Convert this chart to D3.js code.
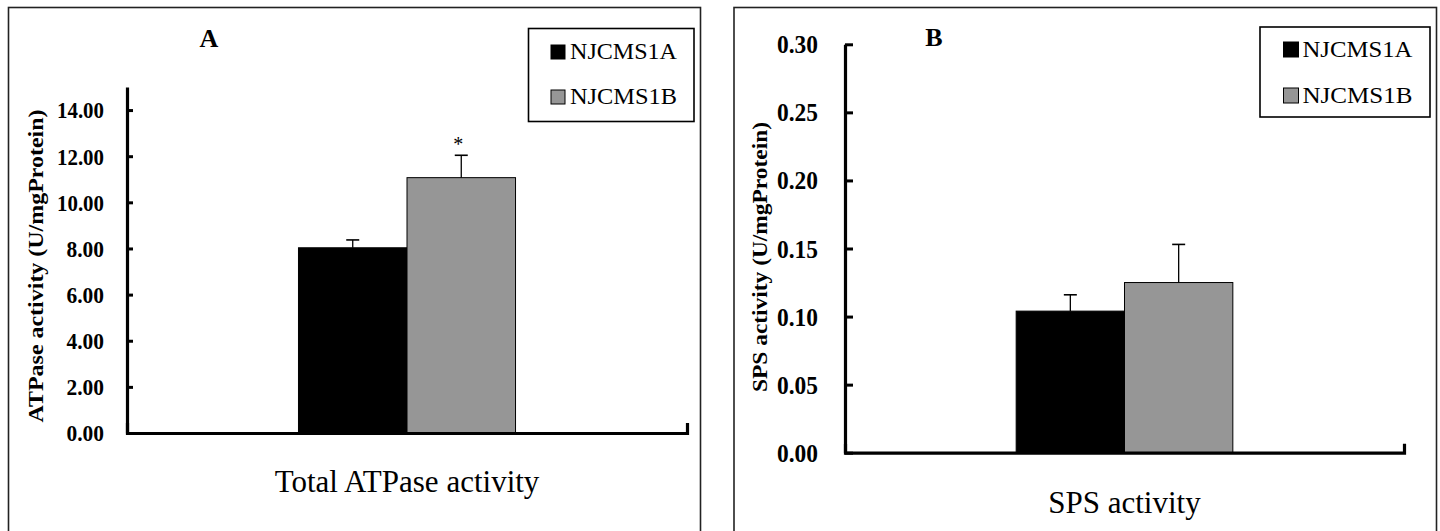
<!DOCTYPE html>
<html>
<head>
<meta charset="utf-8">
<script src="https://cdn.jsdelivr.net/npm/d3@7"></script>
<style>
  html, body { margin: 0; padding: 0; background: #fff; }
  svg { display: block; }
</style>
</head>
<body>
<svg id="chart" width="1440" height="531"></svg>
<script>
// ---- data ----
const series = ["NJCMS1A", "NJCMS1B"];
const seriesColors = ["#000000", "#969696"];

const categoriesA = ["Total ATPase activity"];
const valuesA = [8.03, 11.07];
const errorsA = [0.34, 0.97];
const ticksA = [0, 2, 4, 6, 8, 10, 12, 14];
const markA = ["", "*"];

const categoriesB = ["SPS activity"];
const valuesB = [0.104, 0.125];
const errorsB = [0.012, 0.028];
const ticksB = [0, 0.05, 0.10, 0.15, 0.20, 0.25, 0.30];
const markB = ["", ""];

const svg = d3.select("#chart");
const serif = "'Liberation Serif', 'Times New Roman', serif";

function panel(cfg) {
  const g = svg.append("g");
  // frame
  g.append("rect")
    .attr("x", cfg.frame[0]).attr("y", cfg.frame[1])
    .attr("width", cfg.frame[2]).attr("height", cfg.frame[3])
    .attr("fill", "none").attr("stroke", "#222").attr("stroke-width", 1.6);

  const y = d3.scaleLinear().domain(cfg.domain).range([cfg.y0, cfg.y1]);
  const x = d3.scaleBand().domain(cfg.categories).range([cfg.x0, cfg.x1])
    .paddingInner(0).paddingOuter(0.79);
  const xs = d3.scaleBand().domain(series).range([0, x.bandwidth()]).padding(0);

  // bars
  const cat = cfg.categories[0];
  const data = series.map((s, i) => ({ s, i, v: cfg.values[i], e: cfg.errors[i], m: cfg.marks[i] }));
  const bg = g.append("g").attr("transform", `translate(${x(cat)},0)`);
  bg.selectAll("rect.bar").data(data).join("rect")
    .attr("class", "bar")
    .attr("x", d => xs(d.s))
    .attr("y", d => y(d.v))
    .attr("width", xs.bandwidth())
    .attr("height", d => y(0) - y(d.v))
    .attr("fill", d => seriesColors[d.i])
    .attr("stroke", "#000").attr("stroke-width", 1);

  // error bars
  const eb = bg.selectAll("g.err").data(data).join("g").attr("class", "err");
  eb.append("line")
    .attr("x1", d => xs(d.s) + xs.bandwidth() / 2)
    .attr("x2", d => xs(d.s) + xs.bandwidth() / 2)
    .attr("y1", d => y(d.v)).attr("y2", d => y(d.v + d.e))
    .attr("stroke", "#000").attr("stroke-width", 1.3);
  eb.append("line")
    .attr("x1", d => xs(d.s) + xs.bandwidth() / 2 - 6.5)
    .attr("x2", d => xs(d.s) + xs.bandwidth() / 2 + 6.5)
    .attr("y1", d => y(d.v + d.e)).attr("y2", d => y(d.v + d.e))
    .attr("stroke", "#000").attr("stroke-width", 1.6);
  eb.filter(d => d.m).append("text")
    .attr("x", d => xs(d.s) + xs.bandwidth() / 2 - 3)
    .attr("y", d => y(d.v + d.e) - 4)
    .attr("text-anchor", "middle")
    .attr("font-family", serif).attr("font-size", 20)
    .text(d => d.m);

  // y axis
  const ya = g.append("g").attr("transform", `translate(${cfg.x0},0)`)
    .call(d3.axisLeft(y).tickValues(cfg.ticks).tickFormat(d3.format(cfg.fmt))
      .tickSizeInner(-cfg.tickLen).tickSizeOuter(0).tickPadding(cfg.labelPad));
  ya.select(".domain").attr("stroke", "#000").attr("stroke-width", 3.2);
  ya.selectAll(".tick line").attr("stroke", "#000").attr("stroke-width", 3);
  ya.selectAll(".tick text")
    .style("font-family", serif).style("font-weight", "bold")
    .style("font-size", cfg.labelSize + "px").attr("fill", "#000")
    .attr("dy", "0.34em")
    .attr("textLength", function () { return cfg.labelW(this.textContent); })
    .attr("lengthAdjust", "spacingAndGlyphs");

  // x axis
  const xa = g.append("g").attr("transform", `translate(0,${cfg.y0})`)
    .call(d3.axisBottom(x).tickValues([]).tickSizeOuter(-cfg.endTick));
  xa.select(".domain").attr("stroke", "#000").attr("stroke-width", 3.2);

  // panel letter
  g.append("text").attr("x", cfg.letterPos[0]).attr("y", cfg.letterPos[1])
    .attr("text-anchor", "middle").attr("font-family", serif)
    .attr("font-weight", "bold").attr("font-size", 26).text(cfg.letter);

  // x title
  g.append("text").attr("x", x(cat) + x.bandwidth() / 2).attr("y", cfg.xTitleY)
    .attr("text-anchor", "middle").attr("font-family", serif)
    .attr("font-size", 31).attr("fill", "#000").text(cat);

  // y title
  g.append("text")
    .attr("transform", `translate(${cfg.yTitle[0]},${cfg.yTitle[1]}) rotate(-90)`)
    .attr("text-anchor", "middle").attr("font-family", serif)
    .attr("font-weight", "bold").attr("font-size", 20)
    .attr("textLength", cfg.yTitle[2]).attr("lengthAdjust", "spacingAndGlyphs")
    .text(cfg.yTitleText);

  // legend
  const L = cfg.legend;
  const lg = g.append("g");
  lg.append("rect").attr("x", L.x).attr("y", L.y).attr("width", L.w).attr("height", L.h)
    .attr("fill", "#fff").attr("stroke", "#000").attr("stroke-width", 1.6);
  const items = lg.selectAll("g.item").data(series).join("g").attr("class", "item")
    .attr("transform", (d, i) => `translate(${L.sx},${L.rows[i]})`);
  items.append("rect").attr("x", 0).attr("y", -L.sq).attr("width", L.sq).attr("height", L.sq)
    .attr("fill", (d, i) => seriesColors[i]).attr("stroke", "#000").attr("stroke-width", 1);
  items.append("text").attr("x", L.tx).attr("y", 0)
    .attr("font-family", serif).attr("font-size", 23).attr("fill", "#000")
    .attr("textLength", L.tw).attr("lengthAdjust", "spacingAndGlyphs")
    .text(d => d);
}

panel({
  frame: [8.5, 7.5, 692, 600],
  categories: categoriesA, values: valuesA, errors: errorsA, marks: markA,
  domain: [0, 15], ticks: ticksA, fmt: ".2f",
  x0: 127, x1: 687, y0: 433, y1: 87,
  tickLen: 6, labelPad: 23, labelSize: 23,
  labelW: s => s.length === 5 ? 47 : 37.5, endTick: 10,
  letter: "A", letterPos: [209, 47],
  xTitleY: 492,
  yTitle: [43, 266, 313], yTitleText: "ATPase activity (U/mgProtein)",
  legend: { x: 528.5, y: 28.5, w: 165.5, h: 93, sx: 551, sq: 14, rows: [59, 104], tx: 19, tw: 107 }
});

panel({
  frame: [734, 7.5, 702.5, 600],
  categories: categoriesB, values: valuesB, errors: errorsB, marks: markB,
  domain: [0, 0.30], ticks: ticksB, fmt: ".2f",
  x0: 845, x1: 1404, y0: 452.7, y1: 44.3,
  tickLen: 8, labelPad: 27, labelSize: 25,
  labelW: s => 41, endTick: 9,
  letter: "B", letterPos: [934, 46],
  xTitleY: 513,
  yTitle: [767, 257, 270], yTitleText: "SPS activity (U/mgProtein)",
  legend: { x: 1260, y: 27, w: 170, h: 90, sx: 1283.5, sq: 15, rows: [57, 103], tx: 19, tw: 110 }
});
</script>
</body>
</html>
